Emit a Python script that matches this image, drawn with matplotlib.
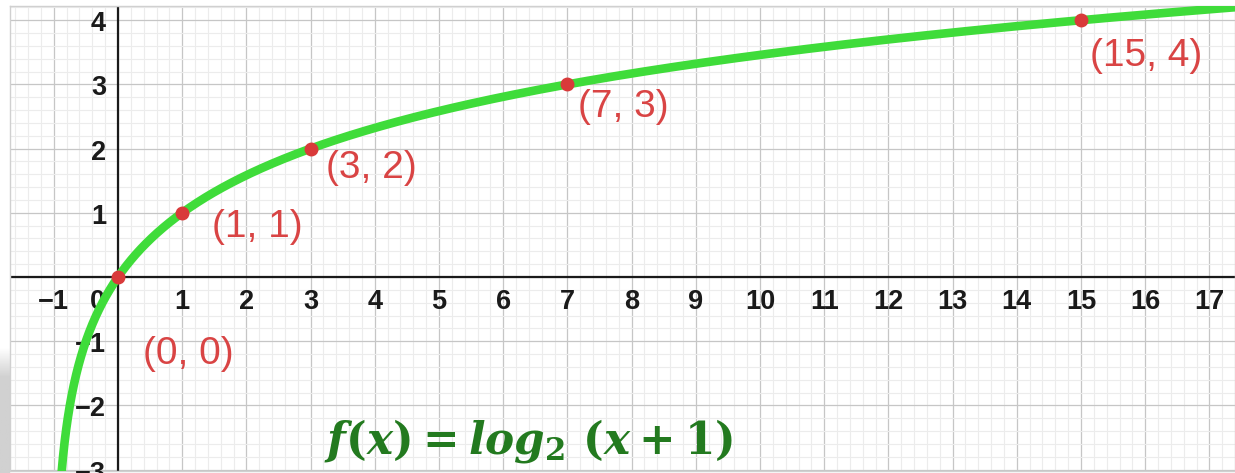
import numpy as np
import matplotlib
matplotlib.use('Agg')
import matplotlib.pyplot as plt
from matplotlib.ticker import MultipleLocator

# ---- data ----
x_ticks = list(range(-1, 18))
y_ticks = [-3, -2, -1, 1, 2, 3, 4]
pt_x = [0, 1, 3, 7, 15]
pt_y = [0, 1, 2, 3, 4]
pt_labels = ['(0, 0)', '(1, 1)', '(3, 2)', '(7, 3)', '(15, 4)']
formula = r'$f(x) = log_2\ (x+1)$'

# label offsets in pixels (right, up)
pt_label_off = [(25, -77), (30, -14), (15, -19), (11, -23), (9, -36)]

plt.rcParams['mathtext.fontset'] = 'custom'
plt.rcParams['mathtext.it'] = 'DejaVu Serif:italic:bold'
plt.rcParams['mathtext.rm'] = 'DejaVu Serif:bold'
plt.rcParams['mathtext.bf'] = 'DejaVu Serif:bold'

W, H = 1235, 473
fig = plt.figure(figsize=(W / 100, H / 100), dpi=100)
fig.patch.set_facecolor('white')

# soft shadow at the lower left of the panel
sax = fig.add_axes([0, 0, 10 / W, 125 / H])
grad = np.concatenate([np.linspace(1.0, 0.82, 30), np.full(95, 0.82)])[:, None]
sax.imshow(grad, cmap='gray', vmin=0, vmax=1, aspect='auto', extent=[0, 1, 0, 1], origin='upper')
sax.axis('off')

L, R, T, B = 10, 1235, 6, 471
ax = fig.add_axes([L / W, 1 - B / H, (R - L) / W, (B - T) / H])
x0px, y0px, unit = 118, 277, 64.2
ax.set_xlim((L - x0px) / unit, (R - x0px) / unit)
ax.set_ylim((y0px - B) / unit, (y0px - T) / unit)

ax.xaxis.set_major_locator(MultipleLocator(1))
ax.yaxis.set_major_locator(MultipleLocator(1))
ax.xaxis.set_minor_locator(MultipleLocator(0.2))
ax.yaxis.set_minor_locator(MultipleLocator(0.2))
ax.grid(which='minor', color='#ececec', lw=0.8)
ax.grid(which='major', color='#c6c6c6', lw=0.9)
ax.set_axisbelow(True)
ax.tick_params(which='both', length=0, labelbottom=False, labelleft=False)
for s in ax.spines.values():
    s.set_color('#d0d0d0')
    s.set_linewidth(1.0)

ax.axhline(0, color='#1a1a1a', lw=1.6, zorder=2)
ax.axvline(0, color='#1a1a1a', lw=1.6, zorder=2)

# tick labels
tick_kw = dict(textcoords='offset pixels', fontsize=19.5, fontweight='bold',
               family='Liberation Sans', color='#1a1a1a', va='center', zorder=3)
for xv in x_ticks:
    if xv == 0:
        ax.annotate('0', (0, 0), xytext=(-21, -25), ha='center', **tick_kw)
    else:
        lab = str(xv).replace('-', '\u2212')
        ax.annotate(lab, (xv, 0), xytext=(0, -25), ha='center', **tick_kw)
for yv in y_ticks:
    lab = str(yv).replace('-', '\u2212')
    ax.annotate(lab, (0, yv), xytext=(-12, -4), ha='right', **tick_kw)

# curve
xc = np.linspace(-0.999, 17.6, 3000)
ax.plot(xc, np.log2(xc + 1), color='#3fdc3a', lw=6.2, solid_capstyle='butt', zorder=4)

# points
ax.plot(pt_x, pt_y, 'o', color='#d93a3a', ms=9, zorder=5)
for px, py, lab, off in zip(pt_x, pt_y, pt_labels, pt_label_off):
    ax.annotate(lab, (px, py), xytext=off, textcoords='offset pixels',
                ha='left', va='center', fontsize=28, family='Liberation Sans',
                color='#d94444', zorder=6)

ax.text((529 - L) / (R - L), (B - 441) / (B - T), formula, transform=ax.transAxes,
        ha='center', va='center', fontsize=31.5, color='#237a1f', zorder=6)

fig.savefig('out.png', dpi=100)
